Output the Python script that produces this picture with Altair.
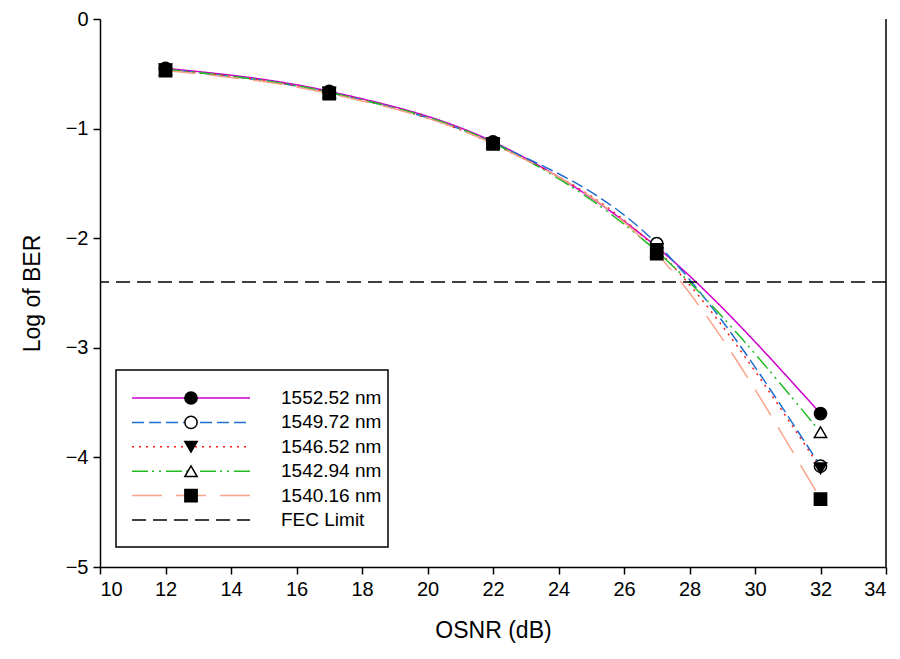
import altair as alt
import pandas as pd

series = ["1552.52 nm", "1549.72 nm", "1546.52 nm", "1542.94 nm", "1540.16 nm"]
osnr = [12, 17, 22, 27, 32]
ber_155252 = [-0.45, -0.66, -1.12, -2.08, -3.60]
ber_154972 = [-0.46, -0.67, -1.13, -2.05, -4.08]
ber_154652 = [-0.46, -0.67, -1.14, -2.10, -4.10]
ber_154294 = [-0.46, -0.67, -1.13, -2.12, -3.77]
ber_154016 = [-0.47, -0.68, -1.14, -2.14, -4.38]
fec_label = "FEC Limit"
fec_value = [-2.4]

x_ticks = list(range(10, 35, 2))
y_ticks = [0, -1, -2, -3, -4, -5]
x_domain = [10, 34]
y_domain = [-5, 0]

# styles
line_colors = ["#CC00CC", "#1F6FD0", "#FF1A1A", "#22BB22", "#F8A488", "#000000"]
line_dashes = [[1, 0], [12, 5], [2, 5], [16, 4, 2, 5, 2, 5], [30, 14], [14, 7]]
shapes = ["circle", "circle", "triangle-down", "triangle-up", "square"]
fills = ["black", "white", "black", "white", "black"]

all_vals = [ber_155252, ber_154972, ber_154652, ber_154294, ber_154016]
rows = []
for s, vals in zip(series, all_vals):
    for x, v in zip(osnr, vals):
        rows.append({"series": s, "osnr": x, "ber": v})
df = pd.DataFrame(rows)
fec_df = pd.DataFrame({"series": [fec_label], "ber": fec_value})

dom = series + [fec_label]
color_scale = alt.Scale(domain=dom, range=line_colors)
dash_scale = alt.Scale(domain=dom, range=line_dashes)

minus_expr = "replace(datum.label, '-', '\u2212')"
xenc = alt.X("osnr:Q", scale=alt.Scale(domain=x_domain, nice=False),
             axis=alt.Axis(values=x_ticks, title="OSNR (dB)", format="d"))
yenc = alt.Y("ber:Q", scale=alt.Scale(domain=y_domain, nice=False),
             axis=alt.Axis(values=y_ticks, title="Log of BER", format="d", labelExpr=minus_expr))

lines = alt.Chart(df).mark_line(interpolate="monotone", strokeWidth=1.5).encode(
    x=xenc, y=yenc,
    color=alt.Color("series:N", scale=color_scale, legend=None),
    strokeDash=alt.StrokeDash("series:N", scale=dash_scale, legend=None),
    detail="series:N",
)

fec = alt.Chart(fec_df).mark_rule(strokeWidth=1.5).encode(
    y=alt.Y("ber:Q"),
    color=alt.Color("series:N", scale=color_scale, legend=None),
    strokeDash=alt.StrokeDash("series:N", scale=dash_scale, legend=None),
)

# right frame line at the x-axis maximum
right_df = pd.DataFrame({"osnr": [x_domain[1]]})
right_line = alt.Chart(right_df).mark_rule(color="black", strokeWidth=1.5).encode(x="osnr:Q")

points = alt.Chart(df).mark_point(size=150, stroke="black", strokeWidth=1.5, opacity=1).encode(
    x="osnr:Q", y="ber:Q",
    shape=alt.Shape("series:N", scale=alt.Scale(domain=series, range=shapes), legend=None),
    fill=alt.Fill("series:N", scale=alt.Scale(domain=series, range=fills), legend=None),
)

# manual legend (pixel layout)
box = alt.Chart(pd.DataFrame({"a": [0]})).mark_rect(
    fill="white", stroke="black", strokeWidth=1.5
).encode(x=alt.value(16), x2=alt.value(288), y=alt.value(351), y2=alt.value(528))

legend_layers = [box]
row_y0 = 379
row_dy = 24.4
for i, name in enumerate(dom):
    yy = row_y0 + i * row_dy
    one = pd.DataFrame({"series": [name]})
    legend_layers.append(
        alt.Chart(one).mark_rule(strokeWidth=1.5, strokeDash=line_dashes[i], color=line_colors[i]).encode(
            x=alt.value(32), x2=alt.value(150), y=alt.value(yy)
        )
    )
    if i < len(series):
        legend_layers.append(
            alt.Chart(one).mark_point(size=150, shape=shapes[i], fill=fills[i], stroke="black",
                                      strokeWidth=1.5, opacity=1).encode(
                x=alt.value(91), y=alt.value(yy)
            )
        )
    legend_layers.append(
        alt.Chart(one).mark_text(align="left", baseline="middle", fontSize=19,
                                 font="Liberation Sans", color="black").encode(
            x=alt.value(181), y=alt.value(yy), text="series:N"
        )
    )

chart = alt.layer(lines, fec, right_line, points, *legend_layers).properties(
    width=786, height=548,
    autosize=alt.AutoSizeParams(type="none"),
    padding={"left": 92, "top": 11, "right": 6, "bottom": 80},
).configure_view(stroke=None).configure_axis(
    grid=False, domainColor="black", tickColor="black", domainWidth=1.5, tickWidth=1.5,
    tickSize=7, labelFont="Liberation Sans", titleFont="Liberation Sans",
    labelFontSize=20, titleFontSize=23, labelColor="black", titleColor="black",
    titleFontWeight="normal", labelPadding=5,
).configure_axisX(titlePadding=20).configure_axisY(titlePadding=21)

chart.save("out.html", embed_options={"renderer": "svg", "actions": False})
